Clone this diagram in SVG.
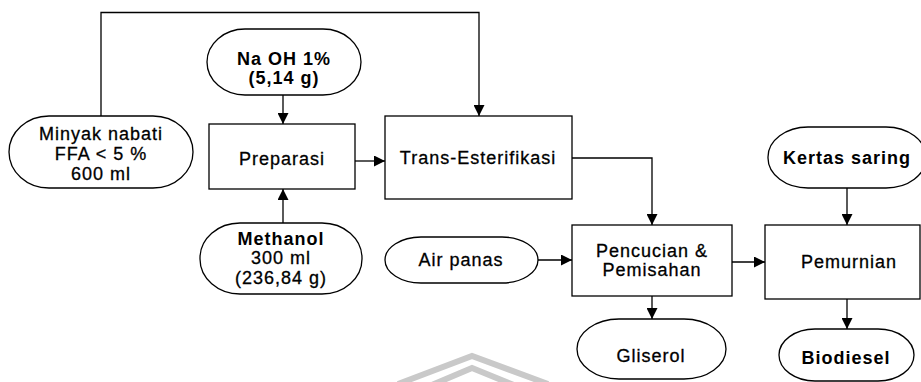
<svg xmlns="http://www.w3.org/2000/svg" width="921" height="382" viewBox="0 0 921 382">
<defs>
<marker id="ah" viewBox="0 0 10 10" refX="10" refY="5" markerWidth="11" markerHeight="11" markerUnits="userSpaceOnUse" orient="auto">
<path d="M0,0 L10,5 L0,10 Z" fill="#000"/>
</marker>
<style>
.shape{fill:#fff;stroke:#000;stroke-width:1.3}
.conn{fill:none;stroke:#000;stroke-width:1.3;marker-end:url(#ah)}
text{font-family:"Liberation Sans",Arial,sans-serif;font-size:18px;letter-spacing:1px;text-anchor:middle;fill:#000;stroke:#000;stroke-width:0.3}
.b{font-weight:bold;stroke-width:0}
.wm{fill:none;stroke:#c9c9c9;stroke-width:6}
</style>
</defs>
<rect width="921" height="382" fill="#fff"/>
<g id="watermark">
<path class="wm" d="M398,384 L472,356 L548,384"/>
<path class="wm" d="M420,390 L472,368 L526,390"/>
</g>
<g id="connectors">
<path class="conn" d="M101,116 V12.5 H479 V116"/>
<path class="conn" d="M283,95 V124"/>
<path class="conn" d="M283,223 V189"/>
<path class="conn" d="M355,161 H385"/>
<path class="conn" d="M572,158 H652 V225"/>
<path class="conn" d="M538,260 H572"/>
<path class="conn" d="M732,262 H765"/>
<path class="conn" d="M847,188 V225"/>
<path class="conn" d="M652,296 V319"/>
<path class="conn" d="M847,299 V329"/>
</g>
<g id="minyak">
<rect class="shape" x="9" y="116" width="184" height="72" rx="40" ry="36"/>
<text x="101" y="140">Minyak nabati</text>
<text x="101" y="160">FFA &lt; 5 %</text>
<text x="101" y="180">600 ml</text>
</g>
<g id="naoh">
<rect class="shape" x="207" y="29" width="154" height="66" rx="38" ry="33"/>
<text class="b" x="284" y="65">Na OH 1%</text>
<text class="b" x="284" y="84">(5,14 g)</text>
</g>
<g id="preparasi">
<rect class="shape" x="209" y="124" width="146" height="65"/>
<text x="282" y="165">Preparasi</text>
</g>
<g id="methanol">
<rect class="shape" x="200" y="223" width="162" height="71" rx="40" ry="35"/>
<text class="b" x="281" y="245">Methanol</text>
<text x="281" y="264">300 ml</text>
<text x="281" y="284">(236,84 g)</text>
</g>
<g id="trans">
<rect class="shape" x="385" y="116" width="187" height="83"/>
<text x="478" y="164">Trans-Esterifikasi</text>
</g>
<g id="airpanas">
<rect class="shape" x="385" y="237" width="153" height="46" rx="36" ry="23"/>
<text x="461" y="266">Air panas</text>
</g>
<g id="pencucian">
<rect class="shape" x="572" y="225" width="160" height="71"/>
<text x="652" y="257">Pencucian &amp;</text>
<text x="652" y="276">Pemisahan</text>
</g>
<g id="gliserol">
<rect class="shape" x="577" y="319" width="149" height="60" rx="42" ry="30"/>
<text x="651" y="362">Gliserol</text>
</g>
<g id="kertas">
<rect class="shape" x="768" y="127" width="158" height="61" rx="40" ry="30"/>
<text class="b" x="847" y="164">Kertas saring</text>
</g>
<g id="pemurnian">
<rect class="shape" x="765" y="225" width="155" height="74"/>
<text x="849" y="268">Pemurnian</text>
</g>
<g id="biodiesel">
<rect class="shape" x="779" y="329" width="135" height="52" rx="36" ry="26"/>
<text class="b" x="846" y="364">Biodiesel</text>
</g>
</svg>
